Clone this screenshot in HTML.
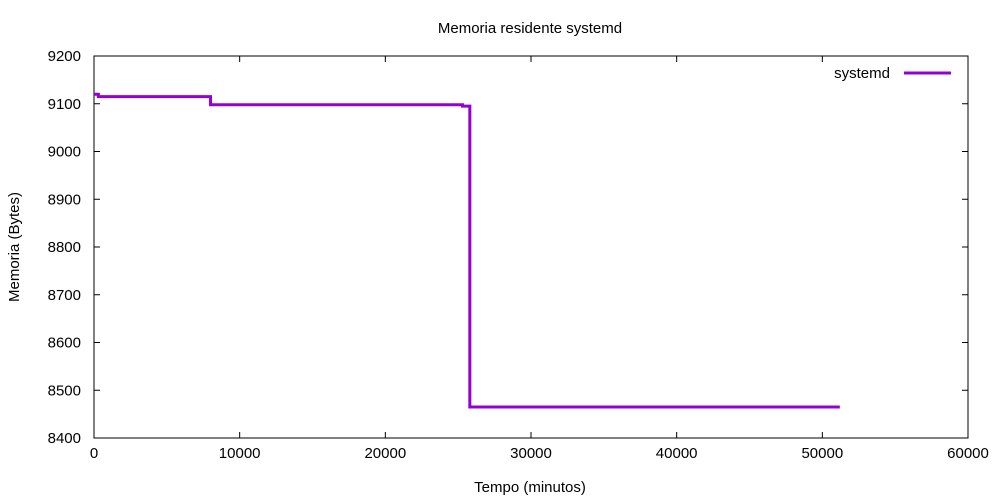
<!DOCTYPE html>
<html><head><meta charset="utf-8"><style>
body{margin:0;background:#fff}
svg{display:block;font-family:"Liberation Sans",sans-serif}
</style></head><body>
<svg id="chart" width="1000" height="500">
<rect width="1000" height="500" fill="#fff"/>
<text x="530" y="33" font-size="15" text-anchor="middle">Memoria residente systemd</text>
<text x="530" y="492" font-size="15" text-anchor="middle">Tempo (minutos)</text>
<text transform="translate(19,247) rotate(-90)" font-size="15" text-anchor="middle">Memoria (Bytes)</text>
<g id="axes"></g>
<g id="series"></g>
<g>
<text x="890" y="78" font-size="15" text-anchor="end">systemd</text>
<line x1="904" y1="73" x2="951" y2="73" stroke="#9400d3" stroke-width="3"/>
</g>
</svg>
<script>
const xTicks=[0,10000,20000,30000,40000,50000,60000];
const yTicks=[8400,8500,8600,8700,8800,8900,9000,9100,9200];
const times=[0,300,8000,25300,25800,51200];
const memory=[9120,9115,9098,9095,8465,8465];
const L=94,R=968,T=56,B=438;
const sx=v=>L+(v-0)/(60000)*(R-L);
const sy=v=>B-(v-8400)/(800)*(B-T);
const NS="http://www.w3.org/2000/svg";
const axes=document.getElementById('axes');
function mk(tag,attrs,parent){const e=document.createElementNS(NS,tag);for(const k in attrs)e.setAttribute(k,attrs[k]);parent.appendChild(e);return e;}
const frame=mk('rect',{x:L,y:T,width:R-L,height:B-T,fill:'none',stroke:'#000','stroke-width':1},axes);


xTicks.forEach(v=>{const x=sx(v);
mk('line',{x1:x,y1:B,x2:x,y2:B-6,stroke:'#000'},axes);
mk('line',{x1:x,y1:T,x2:x,y2:T+6,stroke:'#000'},axes);
const t=mk('text',{x:x,y:B+20,'font-size':15,'text-anchor':'middle'},axes);t.textContent=v;

});
yTicks.forEach(v=>{const y=sy(v);
mk('line',{x1:L,y1:y,x2:L+6,y2:y,stroke:'#000'},axes);
mk('line',{x1:R,y1:y,x2:R-6,y2:y,stroke:'#000'},axes);
const t=mk('text',{x:L-13,y:y+5,'font-size':15,'text-anchor':'end'},axes);t.textContent=v;

});
let d='M'+sx(times[0])+','+sy(memory[0]);
for(let i=0;i<times.length-1;i++){d+=' H'+sx(times[i+1])+' V'+sy(memory[i+1]);}
const p=mk('path',{d:d,fill:'none',stroke:'#9400d3','stroke-width':3},document.getElementById('series'));


</script>
</body></html>
